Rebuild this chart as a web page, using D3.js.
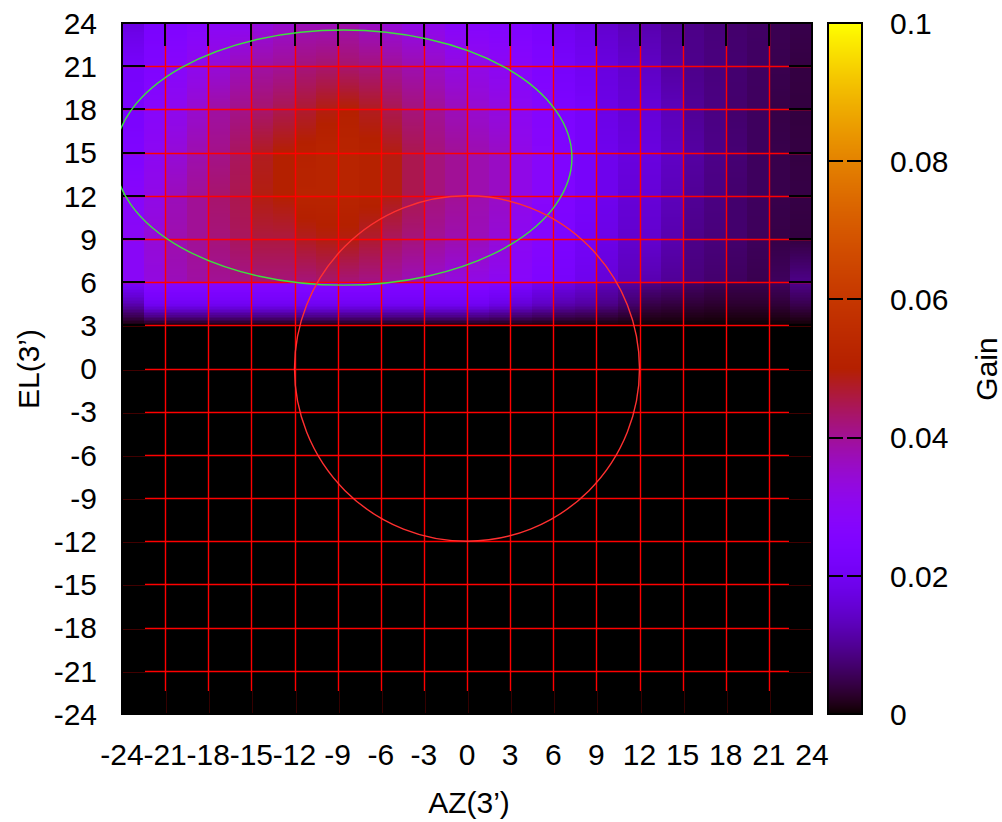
<!DOCTYPE html>
<html><head><meta charset="utf-8">
<script src="https://cdn.jsdelivr.net/npm/d3@7"></script>
<style>
body{margin:0;background:#fff}
text{font-family:"Liberation Sans",Arial,sans-serif;fill:#000}
</style>
</head><body>
<svg id="c" width="1002" height="822"></svg>
<script>
// ---------- data ----------
const xTicks = [-24,-21,-18,-15,-12,-9,-6,-3,0,3,6,9,12,15,18,21,24];
const yTicks = [-24,-21,-18,-15,-12,-9,-6,-3,0,3,6,9,12,15,18,21,24];
const cbTicks = [0,0.02,0.04,0.06,0.08,0.1];
const cbTickLabels = ["0","0.02","0.04","0.06","0.08","0.1"];
const xTitle = "AZ(3\u2019)";
const yTitle = "EL(3\u2019)";
const cbTitle = "Gain";
// column edges of the map (AZ)
const xCells = [-24,-22.5,-21,-19.5,-18,-16.5,-15,-13.5,-12,-10.5,-9,-7.5,-6,-4.5,-3,-1.5,0,
                1.5,3,4.5,6,7.5,9,10.5,12,13.5,15,16.5,18,19.5,21,22.5,24];
// lower band rows (EL 3 .. 6)
const yLower = [3,4.5,6];
const gainLower = [
 [0,0,0,0,0,0,0,0,0,0,0,0,0,0,0,0,0,0,0,0,0,0,0,0,0,0,0,0,0,0,0,0],
 [0.012,0.020,0.020,0.020,0.020,0.020,0.020,0.020,0.020,0.020,0.020,0.020,0.020,0.020,0.020,0.020,0.020,0.018,0.016,0.014,0.012,0.011,0.009,0.007,0.0045,0.004,0.0035,0.003,0.003,0.003,0.0035,0.005],
 [0.022,0.027,0.027,0.027,0.027,0.027,0.027,0.027,0.027,0.027,0.027,0.027,0.026,0.026,0.026,0.026,0.026,0.025,0.023,0.020,0.018,0.016,0.013,0.011,0.009,0.008,0.0065,0.0055,0.005,0.005,0.006,0.009]
];
// upper rows (EL 6 .. 24)
const yUpper = [6,9,12,15,18,21,24];
const gainUpper = [
 [0.029,0.033,0.037,0.039,0.040,0.041,0.042,0.042,0.042,0.043,0.042,0.041,0.039,0.037,0.035,0.033,0.032,0.030,0.028,0.025,0.022,0.019,0.016,0.013,0.012,0.010,0.008,0.007,0.006,0.005,0.006,0.009],
 [0.029,0.034,0.038,0.040,0.042,0.044,0.046,0.046,0.048,0.049,0.049,0.047,0.044,0.042,0.040,0.038,0.037,0.034,0.030,0.027,0.024,0.021,0.018,0.015,0.015,0.012,0.009,0.008,0.007,0.0058,0.0045,0.004],
 [0.028,0.032,0.037,0.040,0.043,0.045,0.049,0.050,0.052,0.052,0.052,0.051,0.049,0.045,0.042,0.040,0.038,0.036,0.032,0.028,0.025,0.022,0.019,0.016,0.016,0.013,0.010,0.0085,0.007,0.006,0.0048,0.0044],
 [0.025,0.030,0.034,0.038,0.041,0.044,0.048,0.050,0.051,0.052,0.052,0.051,0.049,0.045,0.042,0.040,0.038,0.036,0.032,0.028,0.025,0.022,0.019,0.017,0.017,0.014,0.011,0.009,0.0075,0.006,0.0048,0.0042],
 [0.023,0.028,0.031,0.035,0.039,0.041,0.043,0.045,0.047,0.049,0.050,0.048,0.045,0.042,0.040,0.037,0.035,0.033,0.030,0.027,0.024,0.022,0.018,0.016,0.016,0.013,0.010,0.0085,0.007,0.006,0.0045,0.004],
 [0.022,0.025,0.028,0.031,0.034,0.037,0.039,0.040,0.042,0.043,0.043,0.042,0.040,0.038,0.036,0.033,0.032,0.030,0.028,0.025,0.022,0.020,0.017,0.015,0.014,0.011,0.0092,0.0082,0.0072,0.0062,0.005,0.0042],
 [0.017,0.023,0.025,0.027,0.029,0.030,0.033,0.035,0.037,0.037,0.038,0.036,0.034,0.032,0.031,0.028,0.027,0.026,0.025,0.023,0.020,0.018,0.015,0.013,0.012,0.010,0.009,0.008,0.007,0.0065,0.0052,0.0048]
];
// overlays
const ellipse = {cx:-8.6, cy:14.65, rx:15.9, ry:8.86};
const circle = {cx:0, cy:0, r:12};

// ---------- layout ----------
const L=122, R=812, T=23, B=714;
const CBL=828, CBR=862;
const svg = d3.select("#c");
const x = d3.scaleLinear().domain([-24,24]).range([L,R]);
const y = d3.scaleLinear().domain([-24,24]).range([B,T]);

// gnuplot default palette (rgbformulae 7,5,15)
const pal = t => {
  const g = Math.max(0, Math.min(1, t));
  return d3.rgb(Math.sqrt(g)*255, g*g*g*255, Math.max(0, Math.sin(2*Math.PI*g))*255).toString();
};
const color = d3.scaleSequential(pal).domain([0,0.1]);

// ---------- map ----------
const map = svg.append("g").attr("shape-rendering","crispEdges");
map.append("rect").attr("x",L).attr("y",T).attr("width",R-L).attr("height",B-T).attr("fill",color(0));

function drawBand(ys, rows){
  for(let k=0;k<ys.length-1;k++){
    const y0=ys[k], y1=ys[k+1];
    const pix = Math.abs(y(y1)-y(y0));
    const n = Math.max(1, Math.round(pix/1.5));
    for(let j=0;j<xCells.length-1;j++){
      const xa=x(xCells[j]), xb=x(xCells[j+1]);
      for(let s=0;s<n;s++){
        const ta=s/n, tb=(s+1)/n, tm=(s+0.5)/n;
        const v = rows[k][j] + (rows[k+1][j]-rows[k][j])*tm;
        const ya = y(y0+(y1-y0)*ta), yb = y(y0+(y1-y0)*tb);
        map.append("rect")
          .attr("x",xa).attr("width",xb-xa+0.5)
          .attr("y",Math.min(ya,yb)).attr("height",Math.abs(ya-yb)+0.5)
          .attr("fill",color(v));
      }
    }
  }
}
drawBand(yLower, gainLower);
drawBand(yUpper, gainUpper);

// ---------- grid ----------
const grid = svg.append("g").attr("stroke","#ff0000").attr("stroke-width",1.4);
xTicks.filter(t=>t>-24&&t<24).forEach(t=>{
  const px=Math.round(x(t))+0.5;
  grid.append("line").attr("x1",px).attr("x2",px).attr("y1",T).attr("y2",B);
});
yTicks.filter(t=>t>-24&&t<24).forEach(t=>{
  const py=Math.round(y(t))+0.5;
  grid.append("line").attr("y1",py).attr("y2",py).attr("x1",L).attr("x2",R);
});

// ---------- ticks ----------
const tl = 23;
const tk = svg.append("g").attr("stroke","#000").attr("stroke-width",2).attr("shape-rendering","crispEdges");
xTicks.forEach(t=>{
  const px=Math.round(x(t));
  tk.append("line").attr("x1",px).attr("x2",px).attr("y1",T).attr("y2",T+tl);
  tk.append("line").attr("x1",px).attr("x2",px).attr("y1",B).attr("y2",B-tl);
});
yTicks.forEach(t=>{
  const py=Math.round(y(t));
  tk.append("line").attr("y1",py).attr("y2",py).attr("x1",L).attr("x2",L+tl);
  tk.append("line").attr("y1",py).attr("y2",py).attr("x1",R).attr("x2",R-tl);
});
svg.append("rect").attr("x",L).attr("y",T).attr("width",R-L).attr("height",B-T)
  .attr("fill","none").attr("stroke","#000").attr("stroke-width",2);

// ---------- overlays ----------
svg.append("clipPath").attr("id","pc").append("rect").attr("x",L-1).attr("y",T-1).attr("width",R-L+2).attr("height",B-T+2);
const ov = svg.append("g").attr("clip-path","url(#pc)");
ov.append("ellipse")
  .attr("cx",x(ellipse.cx)).attr("cy",y(ellipse.cy))
  .attr("rx",x(ellipse.cx+ellipse.rx)-x(ellipse.cx)).attr("ry",y(ellipse.cy)-y(ellipse.cy+ellipse.ry))
  .attr("fill","none").attr("stroke","#3ee03e").attr("stroke-width",1.4);
ov.append("ellipse")
  .attr("cx",x(circle.cx)).attr("cy",y(circle.cy))
  .attr("rx",x(circle.cx+circle.r)-x(circle.cx)).attr("ry",y(circle.cy)-y(circle.cy+circle.r))
  .attr("fill","none").attr("stroke","#ff3030").attr("stroke-width",1.4);

// ---------- axis labels ----------
const fs = 30;
const xl = svg.append("g").attr("font-size",fs).attr("text-anchor","middle");
xTicks.forEach(t=>xl.append("text").attr("x",x(t)).attr("y",765).text(t));
const yl = svg.append("g").attr("font-size",fs).attr("text-anchor","end");
yTicks.forEach(t=>yl.append("text").attr("x",97).attr("y",y(t)).attr("dy","0.36em").text(t));
svg.append("text").attr("font-size",fs).attr("text-anchor","middle").attr("x",469).attr("y",813).text(xTitle);
svg.append("text").attr("font-size",fs).attr("text-anchor","middle")
  .attr("transform","translate(39,369) rotate(-90)").text(yTitle);

// ---------- colorbar ----------
const cy = d3.scaleLinear().domain([0,0.1]).range([B,T]);
const cb = svg.append("g").attr("shape-rendering","crispEdges");
for(let p=T;p<B;p++){
  cb.append("rect").attr("x",CBL).attr("y",p).attr("width",CBR-CBL).attr("height",1.2)
    .attr("fill",color(cy.invert(p+0.5)));
}
const cbt = svg.append("g").attr("stroke","#000").attr("stroke-width",2).attr("shape-rendering","crispEdges");
cbTicks.forEach(t=>{
  const py=Math.round(cy(t));
  cbt.append("line").attr("x1",CBL).attr("x2",CBL+15).attr("y1",py).attr("y2",py);
  cbt.append("line").attr("x1",CBR).attr("x2",CBR-15).attr("y1",py).attr("y2",py);
});
svg.append("rect").attr("x",CBL).attr("y",T).attr("width",CBR-CBL).attr("height",B-T)
  .attr("fill","none").attr("stroke","#000").attr("stroke-width",2);
const cl = svg.append("g").attr("font-size",fs).attr("text-anchor","start");
cbTicks.forEach((t,i)=>cl.append("text").attr("x",890).attr("y",cy(t)).attr("dy","0.36em").text(cbTickLabels[i]));
svg.append("text").attr("font-size",fs).attr("text-anchor","middle")
  .attr("transform","translate(997,369) rotate(-90)").text(cbTitle);
</script>
</body></html>
